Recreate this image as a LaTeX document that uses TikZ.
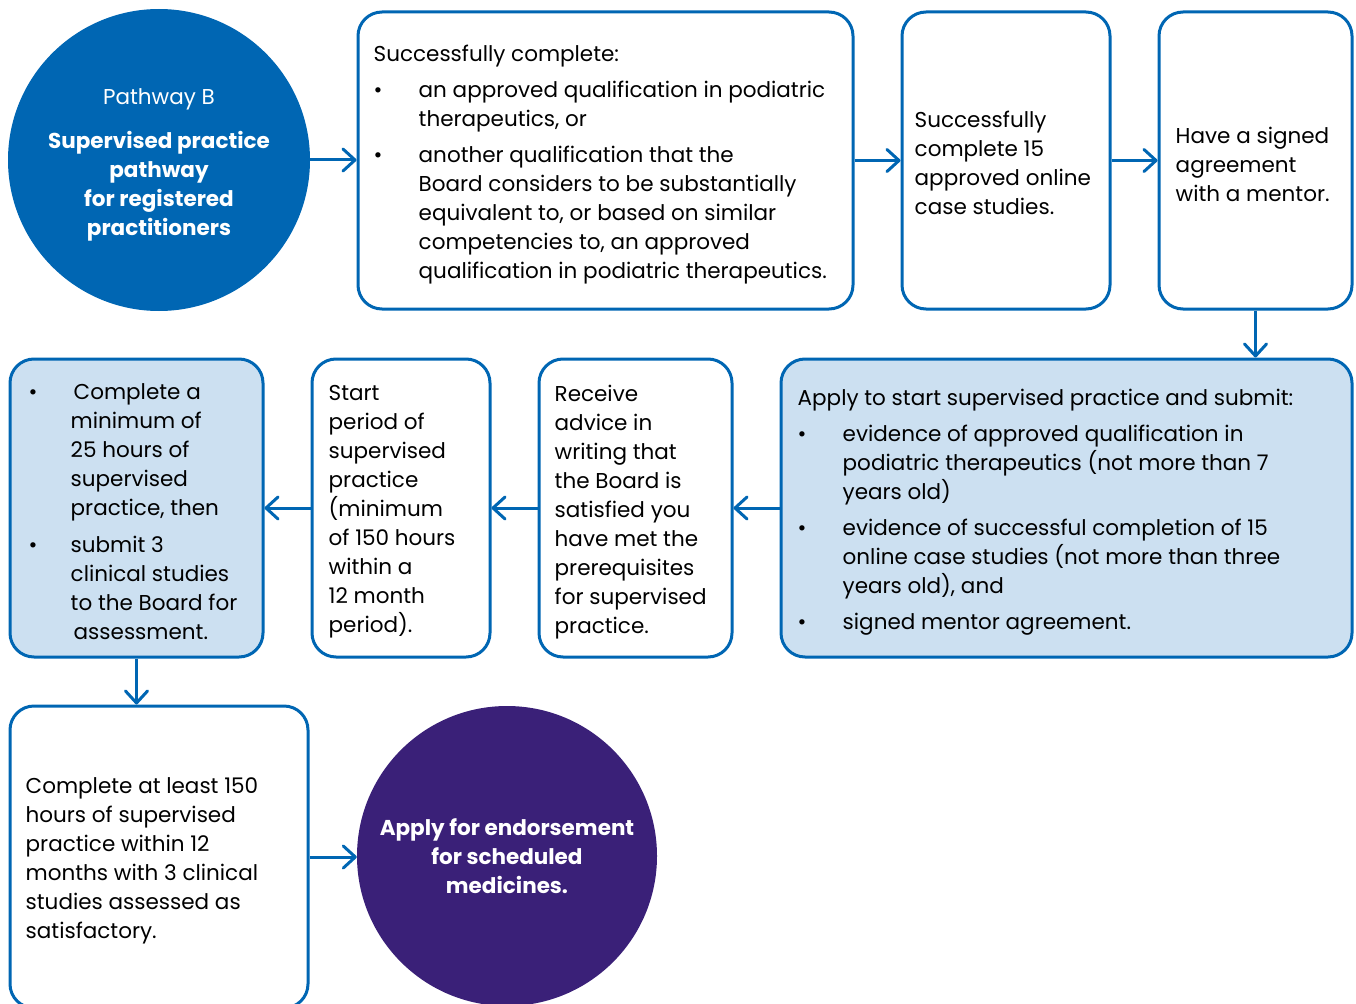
\documentclass[tikz,border=0pt]{standalone}
\usepackage{fontspec}
\setmainfont{Poppins}
\usetikzlibrary{arrows.meta,positioning}
\definecolor{ahblue}{RGB}{0,102,179}
\definecolor{ahlight}{RGB}{204,224,241}
\definecolor{ahpurple}{RGB}{58,32,120}
\newcommand{\arw}{-{Straight Barb[length=12pt,width=22pt,round]}}
\newcommand{\bul}[1][45pt]{\makebox[#1][l]{\textbullet}}
\newcommand{\ind}[1][45pt]{\hspace*{#1}}

\begin{document}
\begin{tikzpicture}[x=1pt,y=-1pt,
  box/.style={draw=ahblue,line width=3pt,rounded corners=24pt,
    minimum width=#1,minimum height=297pt,inner sep=0pt},
  txt/.style={anchor=west,align=left,inner sep=0pt,yshift=-4pt,
    font=\fontsize{21.5}{29}\selectfont},
  circ/.style={circle,minimum size=302pt,inner sep=0pt,text=white,
    align=center,font=\fontsize{21.5}{29}\selectfont\bfseries},
  conn/.style={draw=ahblue,line width=3pt,\arw}]
\useasboundingbox (0,0) rectangle (1356,1003);
\clip (0,0) rectangle (1356,1003);

% top row
\node[circ,fill=ahblue] (c1) at (159,160) {};
\node[circ,minimum size=0pt] (l1) at ([yshift=-5pt]c1.center)
  {\textmd{Pathway B}\\[15pt]Supervised practice\\pathway\\for registered\\practitioners};
\node[box=495pt] (bA) at (605.5,160.5) {};
\node[box=208pt] (bB) at (1006,160.5) {};
\node[box=193pt] (bC) at (1255.5,160.5) {};
\node[txt] (tA) at ([xshift=17pt]bA.west)
  {Successfully complete:\\[7pt]
   \bul an approved qualification in podiatric\\
   \ind therapeutics, or\\[7pt]
   \bul another qualification that the\\
   \ind Board considers to be substantially\\
   \ind equivalent to, or based on similar\\
   \ind competencies to, an approved\\
   \ind qualification in podiatric therapeutics.};
\node[txt] (tB) at ([xshift=14pt,yshift=2pt]bB.west)
  {Successfully\\complete 15\\approved online\\case studies.};
\node[txt] (tC) at ([xshift=18pt]bC.west)
  {Have a signed\\agreement\\with a mentor.};

% middle row
\node[box=571pt,fill=ahlight,minimum height=298pt] (bD) at (1066.5,508) {};
\node[box=193pt,minimum height=298pt] (bE) at (635.5,508) {};
\node[box=178pt,minimum height=298pt] (bF) at (401,508) {};
\node[box=253pt,fill=ahlight,minimum height=298pt] (bG) at (136.5,508) {};
\node[txt] (tD) at ([xshift=18pt]bD.west)
  {Apply to start supervised practice and submit:\\[7pt]
   \bul evidence of approved qualification in\\
   \ind podiatric therapeutics (not more than 7\\
   \ind years old)\\[7pt]
   \bul evidence of successful completion of 15\\
   \ind online case studies (not more than three\\
   \ind years old), and\\[7pt]
   \bul signed mentor agreement.};
\node[txt] (tE) at ([xshift=17pt]bE.west)
  {Receive\\advice in\\writing that\\the Board is\\satisfied you\\have met the\\prerequisites\\for supervised\\practice.};
\node[txt] (tF) at ([xshift=18pt]bF.west)
  {Start\\period of\\supervised\\practice\\(minimum\\of 150 hours\\within a\\12 month\\period).};
\node[txt] (tG) at ([xshift=20pt]bG.west)
  {\bul[42pt]\hspace{3pt}Complete a\\
   \ind[42pt]minimum of\\
   \ind[42pt]25 hours of\\
   \ind[42pt]supervised\\
   \ind[42pt]practice, then\\[8pt]
   \bul[42pt]submit 3\\
   \ind[42pt]clinical studies\\
   \ind[42pt]to the Board for\\
   \ind[42pt]\hspace{3pt}assessment.};

% bottom row
\node[box=298pt,minimum height=302pt] (bH) at (159,857) {};
\node[txt] (tH) at ([xshift=17pt]bH.west)
  {Complete at least 150\\hours of supervised\\practice within 12\\months with 3 clinical\\studies assessed as\\satisfactory.};
\node[circ,fill=ahpurple,minimum size=300pt] (c2) at (507,856)
  {Apply for endorsement\\for scheduled\\medicines.};

% connectors
\draw[conn] (c1.east) -- (c1.east -| bA.west);
\draw[conn] (bA.east) -- (bA.east -| bB.west);
\draw[conn] (bB.east) -- (bB.east -| bC.west);
\draw[conn] (bC.south) -- (bC.south |- bD.north);
\draw[conn] (bD.west) -- (bE.east);
\draw[conn] (bE.west) -- (bF.east);
\draw[conn] (bF.west) -- (bG.east);
\draw[conn] (bG.south) -- (bG.south |- bH.north);
\draw[conn] (bH.east) -- (bH.east -| c2.west);
\end{tikzpicture}
\end{document}
